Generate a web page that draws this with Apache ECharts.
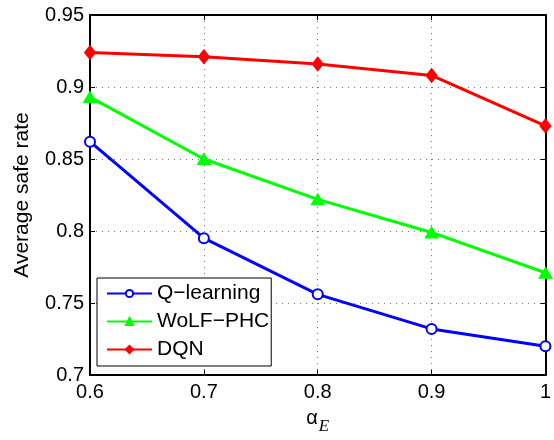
<!DOCTYPE html>
<html>
<head>
<meta charset="utf-8">
<script src="https://cdn.jsdelivr.net/npm/echarts@6/dist/echarts.min.js"></script>
<style>
  html, body { margin: 0; padding: 0; background: #fff; }
  #chart { width: 554px; height: 440px; }
</style>
</head>
<body>
<div id="chart"></div>
<script>
// x positions (alpha_E)
const alphaE = [0.6, 0.7, 0.8, 0.9, 1.0];
const xTicks = [0.6, 0.7, 0.8, 0.9, 1];
const yTicks = [0.7, 0.75, 0.8, 0.85, 0.9, 0.95];

// average safe rate per method
const qLearning = [0.862, 0.795, 0.756, 0.732, 0.720];
const wolfPhc   = [0.893, 0.850, 0.822, 0.799, 0.771];
const dqn       = [0.924, 0.921, 0.916, 0.908, 0.873];

const seriesNames = ['Q\u2212learning', 'WoLF\u2212PHC', 'DQN'];

const font = 'Liberation Sans, Arial, Helvetica, sans-serif';
const pairs = arr => alphaE.map((x, i) => [x, arr[i]]);

const xFmt = v => {
  const r = Math.round(v * 10) / 10;
  return r === 1 ? '1' : r.toFixed(1);
};
const yFmt = v => String(Math.round(v * 100) / 100);

const chart = echarts.init(document.getElementById('chart'), null, { renderer: 'canvas' });

const gridDots = { show: true, lineStyle: { color: '#777', width: 1, type: [1, 5] } };

const baseX = {
  type: 'value', min: 0.6, max: 1.0, interval: 0.1,
  axisLine: { show: true, onZero: false, lineStyle: { color: '#000', width: 2 } },
  axisTick: { show: true, inside: true, length: 5, lineStyle: { color: '#000', width: 1 } },
  splitLine: { show: false }
};
const baseY = {
  type: 'value', min: 0.7, max: 0.95, interval: 0.05,
  axisLine: { show: true, onZero: false, lineStyle: { color: '#000', width: 2 } },
  axisTick: { show: true, inside: true, length: 5, lineStyle: { color: '#000', width: 1 } },
  splitLine: { show: false }
};

chart.setOption({
  animation: false,
  backgroundColor: '#fff',
  grid: { left: 90, top: 15, right: 2, bottom: 63, containLabel: false },
  xAxis: [
    Object.assign({}, baseX, {
      position: 'bottom',
      name: '{a|\u03b1}{e|E}',
      nameLocation: 'middle',
      nameGap: 27,
      nameTextStyle: {
        rich: {
          a: { fontFamily: font, fontSize: 20, color: '#000' },
          e: { fontFamily: 'Liberation Serif, Times New Roman, serif', fontStyle: 'italic', fontSize: 17, color: '#000', padding: [16, 0, 0, 1] }
        }
      },
      axisLabel: { show: true, fontFamily: font, fontSize: 20, color: '#000', margin: 7, formatter: xFmt },
      splitLine: gridDots
    }),
    Object.assign({}, baseX, { position: 'top', axisLabel: { show: false } })
  ],
  yAxis: [
    Object.assign({}, baseY, {
      position: 'left',
      name: 'Average safe rate',
      nameLocation: 'middle',
      nameGap: 57,
      nameTextStyle: { fontFamily: font, fontSize: 21, color: '#000' },
      axisLabel: { show: true, fontFamily: font, fontSize: 20, color: '#000', margin: 6, formatter: yFmt },
      splitLine: gridDots
    }),
    Object.assign({}, baseY, { position: 'right', axisLabel: { show: false } })
  ],
  legend: {
    orient: 'vertical',
    left: 97, top: 278,
    padding: [5, 2, 6, 9],
    itemGap: 7,
    itemWidth: 45,
    itemHeight: 9,
    backgroundColor: '#fff',
    borderColor: '#000',
    borderWidth: 1,
    borderRadius: 0,
    textStyle: { fontFamily: font, fontSize: 21, color: '#000', lineHeight: 21 },
    data: seriesNames
  },
  series: [
    {
      name: seriesNames[0], type: 'line', data: pairs(qLearning),
      color: '#0000ff',
      lineStyle: { color: '#0000ff', width: 3 },
      symbol: 'emptyCircle', symbolSize: 10,
      itemStyle: { color: '#0000ff', borderColor: '#0000ff', borderWidth: 2.5 },
      z: 3
    },
    {
      name: seriesNames[1], type: 'line', data: pairs(wolfPhc),
      color: '#00ff00',
      lineStyle: { color: '#00ff00', width: 3 },
      symbol: 'triangle', symbolSize: [13, 11],
      itemStyle: { color: '#00ff00', borderColor: '#00ff00', borderWidth: 1 },
      z: 4
    },
    {
      name: seriesNames[2], type: 'line', data: pairs(dqn),
      color: '#ff0000',
      lineStyle: { color: '#ff0000', width: 3 },
      symbol: 'diamond', symbolSize: [11, 14],
      itemStyle: { color: '#ff0000', borderColor: '#ff0000', borderWidth: 1 },
      z: 5
    }
  ]
});
</script>
</body>
</html>
